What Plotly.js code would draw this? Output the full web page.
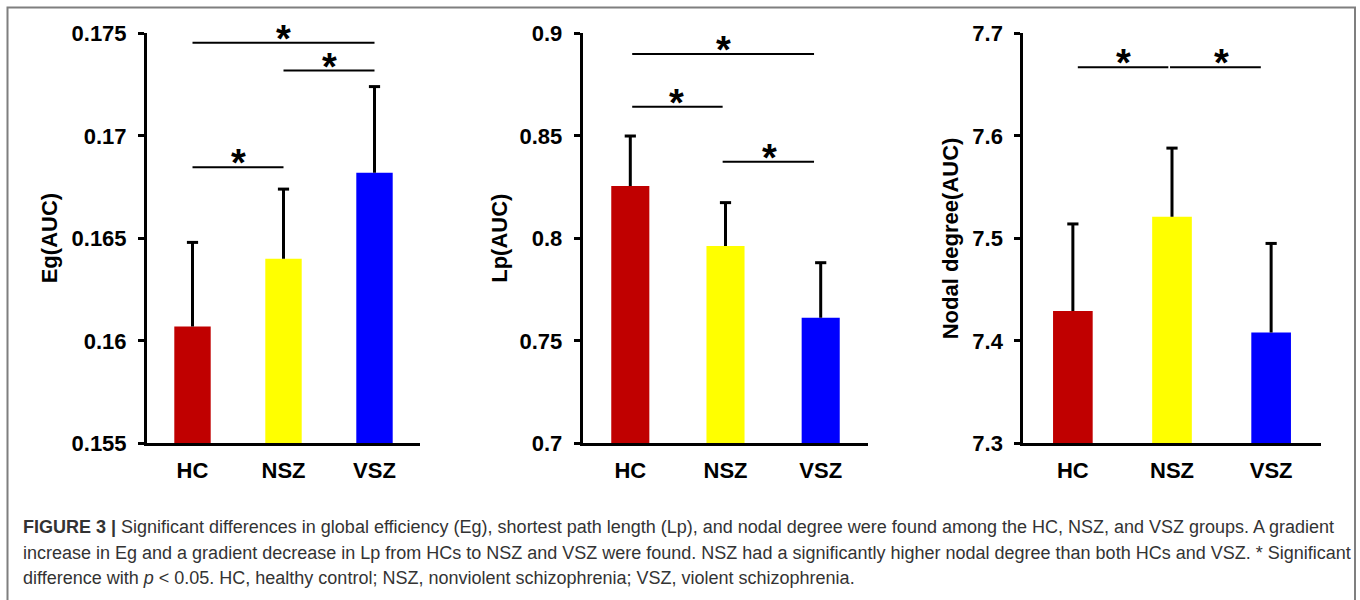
<!DOCTYPE html>
<html>
<head>
<meta charset="utf-8">
<script src="https://cdn.plot.ly/plotly-3.0.1.min.js"></script>
<style>
html,body{margin:0;padding:0;background:#fff;}
#chart{width:1360px;height:600px;}
</style>
</head>
<body>
<div id="chart"></div>
<script>
// ---------- data ----------
const groups = ['HC', 'NSZ', 'VSZ'];

const egMean = [0.1607, 0.1640, 0.1682];
const egSD   = [0.0041, 0.0034, 0.0042];
const egTicks = [0.155, 0.16, 0.165, 0.17, 0.175];
const egTickText = ['0.155', '0.16', '0.165', '0.17', '0.175'];
// significance brackets: [from, to, y, starX]
const egBrackets = [[0, 2, 0.17454, 1.0], [1, 2, 0.17318, 1.5], [0, 1, 0.16846, 0.5]];

const lpMean = [0.8255, 0.7962, 0.7613];
const lpSD   = [0.0244, 0.0212, 0.0268];
const lpTicks = [0.7, 0.75, 0.8, 0.85, 0.9];
const lpTickText = ['0.7', '0.75', '0.8', '0.85', '0.9'];
const lpBrackets = [[0.02, 1.93, 0.8899, 0.98], [0.02, 0.97, 0.8642, 0.49], [0.97, 1.93, 0.8374, 1.46]];

const ndMean = [7.429, 7.521, 7.408];
const ndSD   = [0.085, 0.067, 0.087];
const ndTicks = [7.3, 7.4, 7.5, 7.6, 7.7];
const ndTickText = ['7.3', '7.4', '7.5', '7.6', '7.7'];
const ndBrackets = [[0.05, 0.963, 7.6668, 0.51], [0.98, 1.896, 7.6668, 1.495]];

const yTitles = ['Eg(AUC)', 'Lp(AUC)', 'Nodal degree(AUC)'];

const captionLines = [
  '<b>FIGURE 3 |</b> Significant differences in global efficiency (Eg), shortest path length (Lp), and nodal degree were found among the HC, NSZ, and VSZ groups. A gradient',
  'increase in Eg and a gradient decrease in Lp from HCs to NSZ and VSZ were found. NSZ had a significantly higher nodal degree than both HCs and VSZ. * Significant',
  'difference with <i>p</i> &lt; 0.05. HC, healthy control; NSZ, nonviolent schizophrenia; VSZ, violent schizophrenia.'
];

// ---------- styling / layout ----------
const W = 1360, H = 600;
const FONT = 'Liberation Sans, Arial, Helvetica, sans-serif';
const barColors = ['#C00000', '#FFFF00', '#0000FF'];
const px = v => v / W;
const py = v => 1 - v / H;

const panels = [
  {mean: egMean, sd: egSD, ticks: egTicks, tickText: egTickText, brackets: egBrackets, xl: 147, xr: 420, titleX: 49},
  {mean: lpMean, sd: lpSD, ticks: lpTicks, tickText: lpTickText, brackets: lpBrackets, xl: 582.7, xr: 868.3, titleX: 499.5},
  {mean: ndMean, sd: ndSD, ticks: ndTicks, tickText: ndTickText, brackets: ndBrackets, xl: 1023.3, xr: 1320.7, titleX: 950}
];
const yTop = 33.3, yBot = 443.3;

const traces = [];
const layout = {
  width: W, height: H,
  margin: {l: 0, r: 0, t: 0, b: 0},
  paper_bgcolor: '#fff', plot_bgcolor: '#fff',
  showlegend: false,
  font: {family: FONT, color: '#000'},
  shapes: [],
  annotations: []
};

panels.forEach((p, i) => {
  const n = i === 0 ? '' : String(i + 1);
  // bars with one-sided (upper) error stems, no caps at the base
  traces.push({
    type: 'bar',
    x: [0, 1, 2],
    y: p.mean,
    width: 0.4,
    marker: {color: barColors, line: {width: 0}},
    error_y: {type: 'data', symmetric: false, array: p.sd, arrayminus: p.sd.map(() => 0),
              color: '#000', thickness: 3, width: 0},
    xaxis: 'x' + n, yaxis: 'y' + n,
    hoverinfo: 'y'
  });
  // error bar caps at mean + sd
  traces.push({
    type: 'scatter', mode: 'markers',
    x: [0, 1, 2],
    y: p.mean.map((m, k) => m + p.sd[k]),
    marker: {symbol: 'line-ew', size: 8, line: {color: '#000', width: 3}},
    xaxis: 'x' + n, yaxis: 'y' + n,
    hoverinfo: 'skip', cliponaxis: false
  });
  layout['xaxis' + n] = {
    domain: [px(p.xl), px(p.xr)],
    anchor: 'y' + n,
    range: [-0.5, 2.5],
    tickvals: [0, 1, 2], ticktext: groups,
    showline: true, linewidth: 3, linecolor: '#000',
    ticks: '', showgrid: false, zeroline: false,
    tickfont: {family: FONT, size: 22, color: '#000', weight: 'bold'},
    ticklabelstandoff: 5,
    fixedrange: true
  };
  layout['yaxis' + n] = {
    domain: [py(yBot), py(yTop)],
    anchor: 'x' + n,
    range: [p.ticks[0], p.ticks[p.ticks.length - 1]],
    tickvals: p.ticks, ticktext: p.tickText,
    showline: true, linewidth: 3, linecolor: '#000',
    ticks: 'outside', ticklen: 6, tickwidth: 3, tickcolor: '#000',
    showgrid: false, zeroline: false,
    tickfont: {family: FONT, size: 22, color: '#000', weight: 'bold'},
    ticklabelstandoff: 7,
    fixedrange: true
  };
  layout.annotations.push({
    xref: 'paper', yref: 'paper',
    x: px(p.titleX), y: py((yTop + yBot) / 2),
    xanchor: 'center', yanchor: 'middle',
    text: yTitles[i], textangle: -90, showarrow: false,
    font: {family: FONT, size: 22, color: '#000', weight: 'bold'}
  });
  p.brackets.forEach(b => {
    layout.shapes.push({
      type: 'line', xref: 'x' + n, yref: 'y' + n,
      x0: b[0], x1: b[1], y0: b[2], y1: b[2],
      line: {color: '#000', width: 2}
    });
    layout.annotations.push({
      xref: 'x' + n, yref: 'y' + n,
      x: b[3], y: b[2], xanchor: 'center', yanchor: 'middle',
      yshift: 4,
      text: '*', showarrow: false,
      font: {family: FONT, size: 38, color: '#000', weight: 'bold'}
    });
  });
});

// outer frame
layout.shapes.push({
  type: 'rect', xref: 'paper', yref: 'paper',
  x0: px(7.5), x1: px(1355), y0: -0.1, y1: py(7.5),
  line: {color: '#7f7f7f', width: 2}, fillcolor: 'rgba(0,0,0,0)'
});

// caption
const captionY = [527, 552.5, 578];
captionLines.forEach((t, i) => {
  layout.annotations.push({
    xref: 'paper', yref: 'paper',
    x: px(21), y: py(captionY[i]),
    xanchor: 'left', yanchor: 'middle',
    text: t, showarrow: false, align: 'left',
    font: {family: FONT, size: 18, color: '#333'}
  });
});

Plotly.newPlot('chart', traces, layout, {displayModeBar: false, staticPlot: true});
</script>
</body>
</html>
